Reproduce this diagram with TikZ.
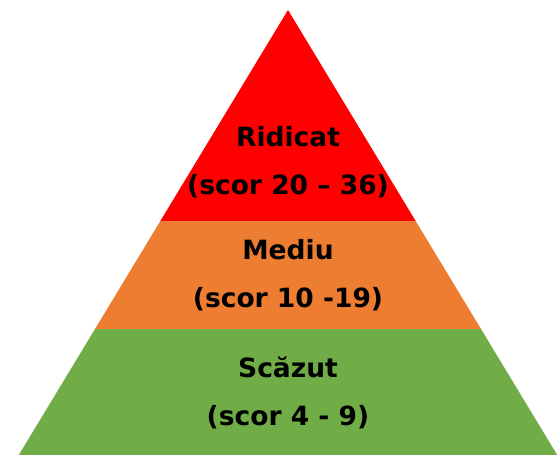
\documentclass[tikz,border=0pt]{standalone}
\usepackage{fontspec}
\setmainfont{DejaVu Sans}
\definecolor{topred}{HTML}{FF0000}
\definecolor{midorange}{HTML}{ED7D31}
\definecolor{lowgreen}{HTML}{70AD47}
\begin{document}
\begin{tikzpicture}[x=1pt,y=-1pt,
  lbl/.style={font=\bfseries\fontsize{26.5}{48}\selectfont, align=center, text=black}]
\useasboundingbox (0,0) rectangle (557,455);
% apex (288,10), slope 0.605 px per px
\coordinate (apex) at (288,10);
\coordinate (rl) at ({288-0.605*211},221);
\coordinate (rr) at ({288+0.605*211},221);
\coordinate (ol) at ({288-0.605*319},329);
\coordinate (or) at ({288+0.605*319},329);
\coordinate (gl) at ({288-0.605*445},455);
\coordinate (gr) at ({288+0.605*445},455);
\fill[topred] (apex) -- (rr) -- (rl) -- cycle;
\fill[midorange] (rl) -- (rr) -- (or) -- (ol) -- cycle;
\fill[lowgreen] (ol) -- (or) -- (gr) -- (gl) -- cycle;
\node[lbl] (high) at (288,162) {Ridicat\\(scor 20 – 36)};
\node[lbl] (mid) at (288,275) {Mediu\\(scor 10 -19)};
\node[lbl] (low) at (288,393) {Scăzut\\(scor 4 - 9)};
\end{tikzpicture}
\end{document}
